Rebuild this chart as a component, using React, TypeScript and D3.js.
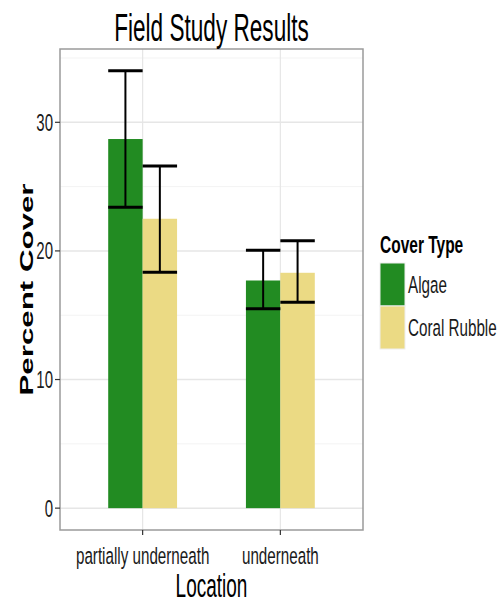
import React, { useEffect, useRef } from 'react'
import * as d3 from 'd3'

// data
const locations = ['partially underneath', 'underneath']
const coverTypes = ['Algae', 'Coral Rubble']
const algaeMean = [28.7, 17.7]
const algaeLow = [23.4, 15.5]
const algaeHigh = [34.0, 20.05]
const rubbleMean = [22.5, 18.3]
const rubbleLow = [18.35, 16.0]
const rubbleHigh = [26.6, 20.8]
const yTicks = [0, 10, 20, 30]
const yMinorTicks = [5, 15, 25, 35]
const colors = ['#228B22', '#EBDA84']

const W = 500
const H = 603
const FONT = '"Liberation Sans", Arial, sans-serif'

export default function App() {
    const ref = useRef<SVGSVGElement>(null)

    useEffect(() => {
        document.body.style.margin = '0'
        const svg = d3.select(ref.current)
        svg.selectAll('*').remove()

        const panel = { left: 60, right: 363, top: 49, bottom: 530 }

        const x = d3.scalePoint<string>()
            .domain(locations)
            .range([panel.left, panel.right])
            .padding(0.6)
        const step = x.step()
        const barW = step * 0.25

        const y = d3.scaleLinear()
            .domain([-1.7, 35.7])
            .range([panel.bottom, panel.top])

        const series = coverTypes.map((name, i) => ({
            name,
            color: colors[i],
            mean: i === 0 ? algaeMean : rubbleMean,
            low: i === 0 ? algaeLow : rubbleLow,
            high: i === 0 ? algaeHigh : rubbleHigh,
        }))

        // panel background + grid
        svg.append('rect')
            .attr('x', panel.left).attr('y', panel.top)
            .attr('width', panel.right - panel.left).attr('height', panel.bottom - panel.top)
            .attr('fill', '#fff')

        svg.append('g').selectAll('line')
            .data(yMinorTicks)
            .enter().append('line')
            .attr('x1', panel.left).attr('x2', panel.right)
            .attr('y1', d => y(d)).attr('y2', d => y(d))
            .attr('stroke', '#f3f3f3').attr('stroke-width', 1)

        svg.append('g').selectAll('line')
            .data(yTicks)
            .enter().append('line')
            .attr('x1', panel.left).attr('x2', panel.right)
            .attr('y1', d => y(d)).attr('y2', d => y(d))
            .attr('stroke', '#e6e6e6').attr('stroke-width', 1.5)

        svg.append('g').selectAll('line')
            .data(locations)
            .enter().append('line')
            .attr('x1', d => x(d)!).attr('x2', d => x(d)!)
            .attr('y1', panel.top).attr('y2', panel.bottom)
            .attr('stroke', '#e6e6e6').attr('stroke-width', 1.2)

        // bars
        series.forEach((s, si) => {
            const off = si === 0 ? -barW : 0
            svg.append('g').selectAll('rect')
                .data(locations)
                .enter().append('rect')
                .attr('x', d => x(d)! + off)
                .attr('width', barW)
                .attr('y', (d, i) => y(s.mean[i]))
                .attr('height', (d, i) => y(0) - y(s.mean[i]))
                .attr('fill', s.color)
        })

        // error bars
        series.forEach((s, si) => {
            const off = si === 0 ? -barW : 0
            const g = svg.append('g')
            locations.forEach((loc, i) => {
                const x0 = x(loc)! + off
                const cx = x0 + barW / 2
                g.append('line')
                    .attr('x1', cx).attr('x2', cx)
                    .attr('y1', y(s.low[i])).attr('y2', y(s.high[i]))
                    .attr('stroke', '#000').attr('stroke-width', 2)
                ;[s.low[i], s.high[i]].forEach(v => {
                    g.append('line')
                        .attr('x1', x0).attr('x2', x0 + barW)
                        .attr('y1', y(v)).attr('y2', y(v))
                        .attr('stroke', '#000').attr('stroke-width', 3)
                })
            })
        })

        // panel border
        svg.append('rect')
            .attr('x', panel.left).attr('y', panel.top)
            .attr('width', panel.right - panel.left).attr('height', panel.bottom - panel.top)
            .attr('fill', 'none').attr('stroke', '#9a9a9a').attr('stroke-width', 1.5)

        // stretched text helper (reference is squashed horizontally)
        const addText = (txt: string, tx: number, ty: number, opts: any) => {
            const t = svg.append('text')
                .attr('transform', `translate(${tx},${ty}) ${opts.rotate ? 'rotate(-90) scale(' + opts.k + ',1)' : 'scale(1,' + opts.k + ')'}`)
                .attr('font-family', FONT)
                .attr('font-size', opts.size)
                .attr('font-weight', opts.bold ? 'bold' : 'normal')
                .attr('text-anchor', opts.anchor || 'start')
                .attr('fill', opts.fill || '#000')
                .text(txt)
            if (opts.central) t.attr('dominant-baseline', 'central')
            return t
        }

        // y axis ticks + labels
        yTicks.forEach(v => {
            svg.append('line')
                .attr('x1', panel.left - 5).attr('x2', panel.left)
                .attr('y1', y(v)).attr('y2', y(v))
                .attr('stroke', '#333').attr('stroke-width', 1.2)
            addText(String(v), panel.left - 7, y(v), { size: 15, k: 1.6, anchor: 'end', central: true, fill: '#1a1a1a' })
        })

        // x axis ticks + labels
        locations.forEach(loc => {
            svg.append('line')
                .attr('x1', x(loc)!).attr('x2', x(loc)!)
                .attr('y1', panel.bottom).attr('y2', panel.bottom + 5)
                .attr('stroke', '#333').attr('stroke-width', 1.2)
            addText(loc, x(loc)!, 564, { size: 15.2, k: 1.6, anchor: 'middle', fill: '#1a1a1a' })
        })

        // titles
        addText('Field Study Results', (panel.left + panel.right) / 2, 41, { size: 22.6, k: 1.75, anchor: 'middle' })
        addText('Location', (panel.left + panel.right) / 2, 597, { size: 19, k: 1.7, anchor: 'middle' })
        addText('Percent Cover', 33, (panel.top + panel.bottom) / 2 + 0, { size: 18.4, k: 1.7, anchor: 'middle', rotate: true, bold: true })

        // legend
        const legX = 380
        const keyW = 25
        const keyH = 43
        const legTop = 263
        addText('Cover Type', legX, 253, { size: 15.5, k: 1.5, bold: true })
        series.forEach((s, i) => {
            svg.append('rect')
                .attr('x', legX).attr('y', legTop + i * keyH)
                .attr('width', keyW).attr('height', keyH)
                .attr('fill', s.color)
                .attr('stroke', '#eeeeee').attr('stroke-width', 1)
            addText(s.name, legX + keyW + 3, legTop + i * keyH + keyH / 2, { size: 15.2, k: 1.6, central: true, fill: '#1a1a1a' })
        })
    }, [])

    return <svg ref={ref} width={W} height={H} style={{ display: 'block', background: '#fff' }} />
}
